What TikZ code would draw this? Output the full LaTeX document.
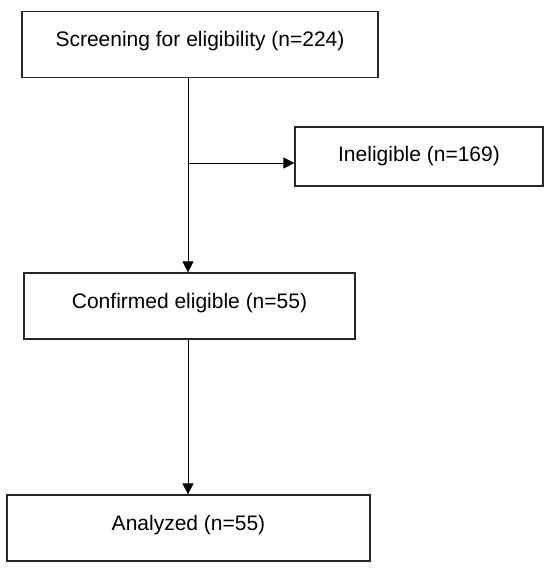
\documentclass[tikz,border=0pt]{standalone}
\usepackage{fontspec}
\setmainfont{Liberation Sans}
\usetikzlibrary{positioning, arrows.meta, calc}

\begin{document}
\begin{tikzpicture}[
    x=1pt, y=1pt,
    font=\fontsize{21}{25}\selectfont,
    box/.style={
        rectangle, draw=black!85, line width=1.2pt,
        align=center, inner sep=3pt
    },
    stage/.style={box, text height=15pt, text depth=11pt},
    arr/.style={-{Triangle[length=11pt,width=11pt]}, line width=1pt}
]
\useasboundingbox (0,0) rectangle (550,-576);

% ---------------- Boxes ----------------
\node[stage, minimum width=356pt, minimum height=66pt] (screening) at (200,-44.5) {Screening for eligibility (n=224)};
\node[box, minimum width=248pt, minimum height=59pt] (ineligible) at (419,-156.5) {Ineligible (n=169)};
\node[stage, minimum width=331pt, minimum height=66pt] (confirmed) at (189.5,-306) {Confirmed eligible (n=55)};
\node[stage, minimum width=363pt, minimum height=66pt] (analyzed) at (188.5,-528) {Analyzed (n=55)};

\coordinate (trunk) at (188,0);
\coordinate (split) at (188,-163);

% ---------------- Arrows ----------------
\draw[arr] (screening.south -| trunk) -- (confirmed.north -| trunk);
\draw[arr] (split) -- (split -| ineligible.west);
\draw[arr] (confirmed.south -| trunk) -- (analyzed.north -| trunk);

\end{tikzpicture}
\end{document}
